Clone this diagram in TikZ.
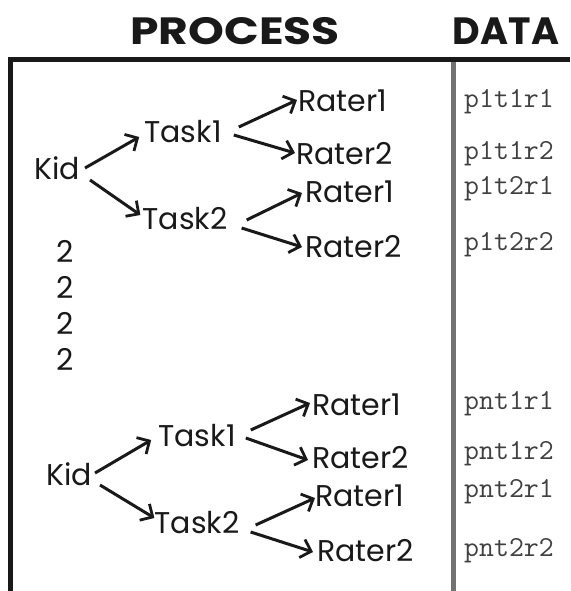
\documentclass[tikz,border=0pt]{standalone}
\usepackage{fontspec}
\setmainfont{Poppins}
\usetikzlibrary{arrows.meta,calc}
\begin{document}
\begin{tikzpicture}[x=1pt,y=-1pt,
  lbl/.style={inner sep=0pt,font=\fontsize{30}{30}\selectfont,text=black!90},
  rlbl/.style={lbl,anchor=west},
  ttl/.style={inner sep=0pt,font=\fontsize{38}{38}\selectfont\bfseries,text=black!90},
  dat/.style={inner sep=0pt,anchor=base west,font=\ttfamily\fontsize{29}{29}\selectfont,text=black!75},
  arr/.style={line width=3pt,black!90,-{Straight Barb[length=9.5pt,width=19pt,line width=2.8pt]}}]
\useasboundingbox (0,0) rectangle (570,591);
% titles
\node[ttl,xscale=1.2] (tp) at (235,31) {PROCESS};
\node[ttl] (td) at (506,31) {DATA};
% frame
\draw[line width=5pt,black!90] (10,591) -- (10,60) -- (570,60);
\draw[line width=5pt,black!55] (453.5,62) -- (453.5,591);
% upper tree
\node[lbl] (k1) at (57,168) {Kid};
\node[lbl] (t1) at (183,132) {Task1};
\node[lbl] (t2) at (185,219) {Task2};
\node[rlbl] (r1) at (298,101) {Rater1};
\node[rlbl] (r2) at (296,154) {Rater2};
\node[rlbl] (r3) at (305,192) {Rater1};
\node[rlbl] (r4) at (305,247) {Rater2};
\draw[arr] ($(k1.east)+(5,0)$) -- ($(t1.west)+(-5,5)$);
\draw[arr] ($(k1.east)+(10,12)$) -- ($(t2.west)+(-2,-4)$);
\draw[arr] ($(t1.east)+(17,-5)$) -- ($(r1.west)+(-1,-1)$);
\draw[arr] ($(t1.east)+(12,3)$) -- ($(r2.west)+(-1,-1)$);
\draw[arr] ($(t2.east)+(19,1)$) -- ($(r3.west)+(-3,1)$);
\draw[arr] ($(t2.east)+(14,9)$) -- ($(r4.west)+(-3,0)$);
% twos
\node[lbl] (n1) at (65,251) {2};
\node[lbl] (n2) at (65,287) {2};
\node[lbl] (n3) at (65,323) {2};
\node[lbl] (n4) at (65,359) {2};
% lower tree
\node[lbl] (k2) at (69,474) {Kid};
\node[lbl] (t3) at (197,436) {Task1};
\node[lbl] (t4) at (197,523) {Task2};
\node[rlbl] (r5) at (312,405) {Rater1};
\node[rlbl] (r6) at (312,458) {Rater2};
\node[rlbl] (r7) at (315,496) {Rater1};
\node[rlbl] (r8) at (317,551) {Rater2};
\draw[arr] ($(k2.east)+(3,-1)$) -- ($(t3.west)+(-7,4)$);
\draw[arr] ($(k2.east)+(8,11)$) -- ($(t4.west)+(0,-5)$);
\draw[arr] ($(t3.east)+(15,-6)$) -- ($(r5.west)+(-2,-2)$);
\draw[arr] ($(t3.east)+(10,2)$) -- ($(r6.west)+(-4,2)$);
\draw[arr] ($(t4.east)+(16,2)$) -- ($(r7.west)+(0,2)$);
\draw[arr] ($(t4.east)+(11,9)$) -- ($(r8.west)+(-4,1)$);
% data
\node[dat] (d1) at (464,107) {p1t1r1};
\node[dat] (d2) at (464,159) {p1t1r2};
\node[dat] (d3) at (464,194) {p1t2r1};
\node[dat] (d4) at (464,250) {p1t2r2};
\node[dat] (d5) at (464,409) {pnt1r1};
\node[dat] (d6) at (464,459) {pnt1r2};
\node[dat] (d7) at (464,497) {pnt2r1};
\node[dat] (d8) at (464,556) {pnt2r2};
\end{tikzpicture}
\end{document}
